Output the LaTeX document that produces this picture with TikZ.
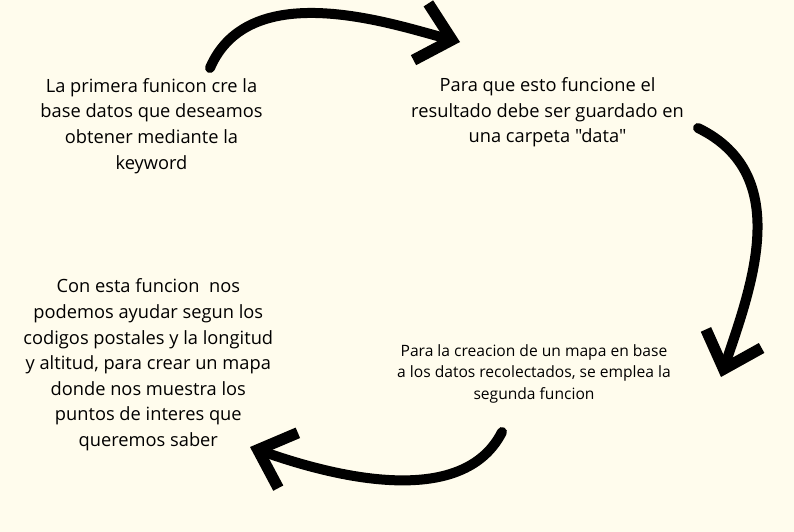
\documentclass[tikz,border=0pt]{standalone}
\usepackage{fontspec}
\newfontfamily\opensans{Open Sans}
\usetikzlibrary{arrows.meta}
\definecolor{paper}{RGB}{255,252,237}
\begin{document}
\begin{tikzpicture}[x=0.75pt,y=-0.75pt,
        txt/.style={align=center,inner sep=0pt,font=\opensans\fontsize{13.7}{19.2}\selectfont},
        smalltxt/.style={align=center,inner sep=0pt,font=\opensans\fontsize{11.7}{16.1}\selectfont},
        brush/.style={line width=7.5pt,line cap=round,-{Straight Barb[length=24pt,width=44pt,line width=8.5pt]}}]
        \fill[paper] (0,0) rectangle (794,532);
        \useasboundingbox (0,0) rectangle (794,532);
        \node[txt] (primera) at (151.5,126) {La primera funicon cre la\\base datos que deseamos\\obtener mediante la\\keyword};
        \node[txt] (guardado) at (547.5,112.5) {Para que esto funcione el\\resultado debe ser guardado en\\una carpeta "data"};
        \node[smalltxt] (segunda) at (534,373.5) {Para la creacion de un mapa en base\\a los datos recolectados, se emplea la\\segunda funcion};
        \node[txt] (mapa) at (148.3,365) {Con esta funcion~ nos\\podemos ayudar segun los\\codigos postales y la longitud\\y altitud, para crear un mapa\\donde nos muestra los\\puntos de interes que\\queremos saber};
        % ends of the arrows
        \coordinate (a1) at (210,68);
        \coordinate (b1) at (460,42);
        \coordinate (a2) at (698,128);
        \coordinate (b2) at (721,377);
        \coordinate (a3) at (502,432);
        \coordinate (b3) at (250,447);
        \draw[brush] (a1) .. controls (250,-25) and (395,25) .. (b1);
        \draw[brush] (a2) .. controls (795,175) and (750,290) .. (b2);
        \draw[brush] (a3) .. controls (460,515) and (315,470) .. (b3);
\end{tikzpicture}
\end{document}
